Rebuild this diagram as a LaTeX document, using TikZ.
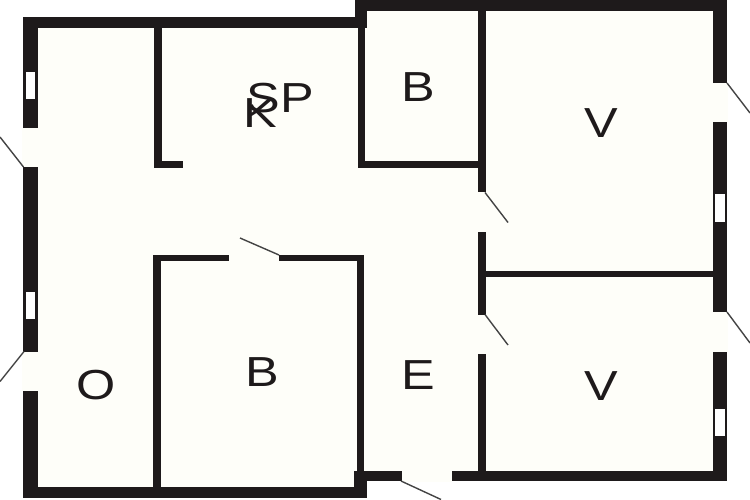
\documentclass[tikz,border=0pt]{standalone}
\usepackage{fontspec}
\setmainfont{Liberation Sans}
\newcommand{\roomtext}[1]{\scalebox{1.2}[1]{#1}}
\definecolor{floorcol}{HTML}{FEFEF9}
\definecolor{wallcol}{HTML}{1E1A1B}
\definecolor{leafcol}{HTML}{444444}
\tikzset{
  wall/.style={fill=wallcol},
  doorgap/.style={fill=floorcol},
  windowgap/.style={fill=white},
  leaf/.style={draw=leafcol,line width=1.4pt},
  roomlabel/.style={anchor=base,inner sep=0pt,text=wallcol,font=\fontsize{42}{42}\selectfont}
}
\begin{document}
\begin{tikzpicture}[x=1pt,y=-1pt]
   \useasboundingbox[fill=white] (0,0) rectangle (750,500);

   \fill[floorcol] (30,23) -- (360,23) -- (360,5) -- (720,5) -- (720,476) -- (360,476) -- (360,492) -- (30,492) -- cycle;

   \fill[wall] (23,17) rectangle (37.5,498);
   \fill[wall] (23,17) rectangle (367,28);
   \fill[wall] (355,0) rectangle (727,11);
   \fill[wall] (355,0) rectangle (367,28);
   \fill[wall] (713,0) rectangle (727,481);
   \fill[wall] (23,487) rectangle (367,498);
   \fill[wall] (354,470.5) rectangle (367,498);
   \fill[wall] (354,470.5) rectangle (727,481);

   \fill[wall] (154,28) rectangle (162,168);
   \fill[wall] (154,161) rectangle (183,168);
   \fill[wall] (357.5,11) rectangle (365,168);
   \fill[wall] (357.5,161) rectangle (486,168);
   \fill[wall] (478,11) rectangle (486,471);
   \fill[wall] (486,271) rectangle (713,277);
   \fill[wall] (153,255) rectangle (364,261);
   \fill[wall] (153,255) rectangle (161,487);
   \fill[wall] (357,255) rectangle (364,471);

   \fill[doorgap] (22,128) rectangle (39.5,167);
   \fill[doorgap] (22,351.5) rectangle (39.5,390.5);
   \fill[doorgap] (712,83) rectangle (727.5,122);
   \fill[doorgap] (712,312) rectangle (727.5,351.5);
   \fill[doorgap] (477.5,192.5) rectangle (486.5,231.5);
   \fill[doorgap] (477.5,314.5) rectangle (486.5,353.5);
   \fill[doorgap] (228.5,254) rectangle (279,261.5);
   \fill[doorgap] (402,470) rectangle (452,481.5);

   \fill[windowgap] (26,72) rectangle (35,99);
   \fill[windowgap] (26,292) rectangle (35,319);
   \fill[windowgap] (714.5,194.5) rectangle (724.5,221.5);
   \fill[windowgap] (714.5,409) rectangle (724.5,436);

   \draw[leaf] (23.5,167) -- (0,137);
   \draw[leaf] (24,351.5) -- (0,381.5);
   \draw[leaf] (727,83) -- (750,113);
   \draw[leaf] (727,312) -- (750,343);
   \draw[leaf] (485,192.5) -- (508,222.5);
   \draw[leaf] (485,314.5) -- (508,345);
   \draw[leaf] (279,255) -- (240,238);
   \draw[leaf] (401,481) -- (441,499.5);

   \node[roomlabel] (roomSP) at (280,113) {\roomtext{SP}};
   \node[roomlabel] (roomK) at (260,128) {\roomtext{K}};
   \node[roomlabel] (roomBtop) at (418,102) {\roomtext{B}};
   \node[roomlabel] (roomVtop) at (601.7,138) {\roomtext{V}};
   \node[roomlabel] (roomO) at (96,399) {\roomtext{O}};
   \node[roomlabel] (roomBlow) at (262,386.5) {\roomtext{B}};
   \node[roomlabel] (roomE) at (418,389) {\roomtext{E}};
   \node[roomlabel] (roomVlow) at (601.7,400.5) {\roomtext{V}};

 \end{tikzpicture}
\end{document}
